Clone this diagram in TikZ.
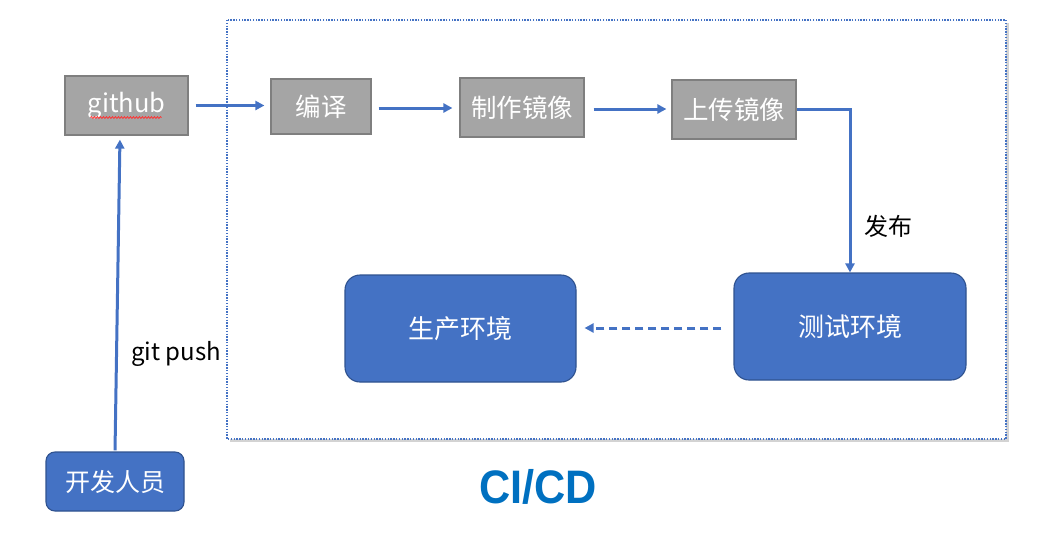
\documentclass[tikz,border=0pt]{standalone}
\usepackage{fontspec}
\setmainfont{Noto Sans CJK SC}
\newfontfamily\titlefont{Liberation Sans}
\usetikzlibrary{arrows.meta, shadows, decorations.pathmorphing}
\definecolor{ciblue}{HTML}{4472C4}
\definecolor{ciborder}{HTML}{2F528F}
\definecolor{stagegray}{HTML}{A5A5A5}
\definecolor{stageline}{HTML}{7F7F7F}
\definecolor{titleblue}{HTML}{0070C0}
\begin{document}
\begin{tikzpicture}[x=1pt, y=-1pt,
            > = {Triangle[length=9pt, width=9pt]},
   flow/.style = {draw=ciblue, line width=3pt, ->},
  stage/.style = {draw=stageline, line width=1.2pt, fill=stagegray,
                  text=white, inner sep=0pt,
                  font=\fontsize{25.5}{29}\selectfont},
    env/.style = {draw=ciborder, line width=1.1pt, fill=ciblue,
                  text=white, inner sep=0pt, rounded corners=15pt,
                  font=\fontsize{26}{30}\selectfont},
  label/.style = {font=\fontsize{24}{28}\selectfont}
                        ]
\useasboundingbox (0,0) rectangle (1058,533);
% pipeline frame
    \draw[ciblue, fill=white, line width=1.4pt, dash pattern=on 1.4pt off 1.4pt,
          drop shadow={shadow xshift=2.5pt, shadow yshift=-2.5pt,
                       opacity=0.35, fill=gray}]
        (227,20) rectangle (1006,439);
% stages
    \node[stage, minimum width=123pt, minimum height=59pt] (github)  at (126.5,105.5) {github};
    \node[stage, minimum width=100pt, minimum height=55pt] (compile) at (321,106.5) {编译};
    \node[stage, minimum width=124pt, minimum height=59pt] (build)   at (522,107.5) {制作镜像};
    \node[stage, minimum width=124pt, minimum height=59pt] (upload)  at (734,109.5) {上传镜像};
    \draw[red!80, line width=0.8pt, decorate,
          decoration={snake, amplitude=0.9pt, segment length=3pt}]
        ([xshift=-36pt, yshift=-12pt]github.center) -- ([xshift=35pt, yshift=-12pt]github.center);
% environments
    \node[env, minimum width=232pt, minimum height=107pt] (test) at (850,326.5) {测试环境};
    \node[env, minimum width=231pt, minimum height=107pt] (prod) at (460.5,328.5) {生产环境};
    \node[env, rounded corners=9pt, minimum width=138pt, minimum height=59pt,
          font=\fontsize{25}{29}\selectfont] (dev) at (115,481.5) {开发人员};
% connectors
    \draw[flow, shorten <=7pt, shorten >=6pt] (github.east) -- (compile.west |- github.east);
    \draw[flow, shorten <=7pt, shorten >=7pt] (compile.east |- 0,108) -- (build.west |- 0,108);
    \draw[flow, shorten <=9pt, shorten >=5pt] (build.east |- 0,109) -- (upload.west |- 0,109);
    \draw[flow] (upload.east) -| (test.north) node[pos=0.86, right=10pt, black, label] {发布};
    \draw[flow, dash pattern=on 8pt off 5pt, shorten <=12pt, shorten >=8pt] (test.west |- 0,328) -- (prod.east |- 0,328);
    \draw[flow, shorten <=1pt, shorten >=4pt] (dev.north) -- ([xshift=-6.5pt]github.south)
        node[pos=0.31, right=10pt, black, label] {git push};
% title
    \node[text=titleblue, font=\titlefont\bfseries\fontsize{47}{50}\selectfont, xscale=0.92] (title) at (538,487) {CI/CD};
\end{tikzpicture}
\end{document}
